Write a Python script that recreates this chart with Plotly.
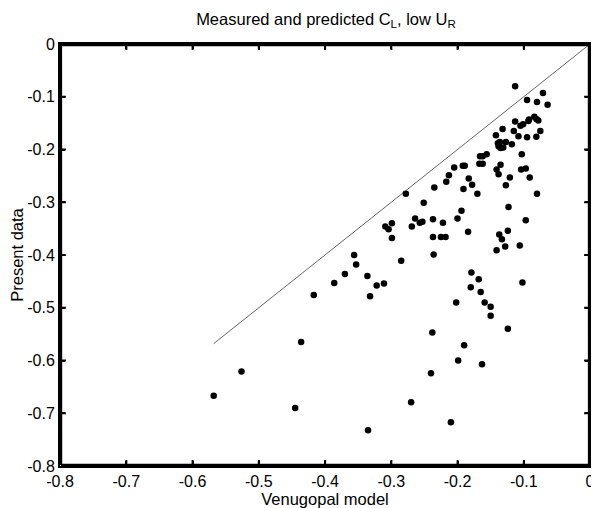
import plotly.graph_objects as go

# Venugopal model prediction (x) vs present measured data (y), C_L at low U_R
venugopal = [
    -0.113, -0.071, -0.095, -0.080, -0.064, -0.113, -0.105, -0.101, -0.093, -0.092,
    -0.084, -0.081, -0.078, -0.132, -0.115, -0.075, -0.142, -0.108, -0.095, -0.081,
    -0.139, -0.136, -0.127, -0.118, -0.138, -0.135, -0.131, -0.103, -0.156, -0.166,
    -0.162, -0.167, -0.162, -0.205, -0.192, -0.189, -0.135, -0.141, -0.138, -0.104,
    -0.097, -0.213, -0.217, -0.183, -0.121, -0.091, -0.235, -0.178, -0.191, -0.127,
    -0.278, -0.170, -0.080, -0.251, -0.123, -0.194, -0.264, -0.237, -0.200, -0.097,
    -0.257, -0.253, -0.222, -0.309, -0.304, -0.299, -0.269, -0.299, -0.237, -0.225,
    -0.218, -0.184, -0.124, -0.137, -0.133, -0.141, -0.128, -0.106, -0.236, -0.285,
    -0.311, -0.179, -0.168, -0.180, -0.165, -0.102, -0.202, -0.159, -0.150, -0.150,
    -0.124, -0.238, -0.190, -0.199, -0.163, -0.240, -0.270, -0.335, -0.210, -0.445,
    -0.436, -0.526, -0.568, -0.356, -0.353, -0.370, -0.336, -0.386, -0.322, -0.417,
    -0.332,
]
present = [
    -0.080, -0.093, -0.106, -0.110, -0.115, -0.147, -0.155, -0.152, -0.146, -0.143,
    -0.138, -0.142, -0.145, -0.161, -0.165, -0.165, -0.173, -0.175, -0.177, -0.176,
    -0.188, -0.186, -0.186, -0.190, -0.194, -0.197, -0.196, -0.209, -0.209, -0.213,
    -0.213, -0.227, -0.227, -0.234, -0.231, -0.231, -0.229, -0.238, -0.247, -0.238,
    -0.236, -0.249, -0.261, -0.255, -0.253, -0.253, -0.272, -0.267, -0.275, -0.268,
    -0.284, -0.284, -0.284, -0.301, -0.309, -0.316, -0.331, -0.332, -0.331, -0.334,
    -0.339, -0.337, -0.339, -0.346, -0.351, -0.340, -0.346, -0.368, -0.366, -0.366,
    -0.366, -0.356, -0.354, -0.361, -0.370, -0.391, -0.384, -0.382, -0.399, -0.411,
    -0.454, -0.433, -0.446, -0.461, -0.470, -0.452, -0.490, -0.490, -0.498, -0.515,
    -0.540, -0.547, -0.571, -0.600, -0.607, -0.624, -0.679, -0.732, -0.717, -0.690,
    -0.565, -0.621, -0.667, -0.400, -0.418, -0.436, -0.440, -0.453, -0.458, -0.476,
    -0.478,
]

# y = x reference line
line_x = [-0.568, 0]
line_y = [-0.568, 0]

x_ticks = [-0.8, -0.7, -0.6, -0.5, -0.4, -0.3, -0.2, -0.1, 0]
x_labels = ["-0.8", "-0.7", "-0.6", "-0.5", "-0.4", "-0.3", "-0.2", "-0.1", "0"]
y_ticks = [-0.8, -0.7, -0.6, -0.5, -0.4, -0.3, -0.2, -0.1, 0]
y_labels = ["-0.8", "-0.7", "-0.6", "-0.5", "-0.4", "-0.3", "-0.2", "-0.1", "0"]

font = "Liberation Sans, Arial, sans-serif"
x0, x1 = x_ticks[0], x_ticks[-1]
y0, y1 = y_ticks[0], y_ticks[-1]

# backup box + ticks as a line trace, nudged a hair off-axis since
# perfectly straight axis lines have not been showing up
px, py = 0.8 / 539, 0.8 / 422      # data units per pixel
e = 0.0002
bx, by = 1.0 * px, 1.0 * py        # keep the 3px stroke mostly inside the area
box_x = [x0 + bx, x1 - bx + e, x1 - bx, x0 + bx - e, x0 + bx]
box_y = [y0 + by, y0 + by + e, y1 - by, y1 - by - e, y0 + by]
tl = 6
tick_x, tick_y = [], []
for v in x_ticks[1:-1]:
    tick_x += [v, v + e, None, v, v + e, None]
    tick_y += [y0, y0 + tl * py, None, y1, y1 - tl * py, None]
for v in y_ticks[1:-1]:
    tick_x += [x0, x0 + tl * px, None, x1, x1 - tl * px, None]
    tick_y += [v, v + e, None, v, v + e, None]

fig = go.Figure()
fig.add_trace(go.Scatter(x=line_x, y=line_y, mode='lines',
                         line=dict(color='#666666', width=1), showlegend=False))
fig.add_trace(go.Scatter(x=venugopal, y=present, mode='markers',
                         marker=dict(color='black', size=6.5), showlegend=False))
fig.add_trace(go.Scatter(x=box_x, y=box_y, mode='lines',
                         line=dict(color='black', width=2.5), showlegend=False))
fig.add_trace(go.Scatter(x=tick_x, y=tick_y, mode='lines',
                         line=dict(color='black', width=2), showlegend=False))

# matlab style box, ticks inside on all four sides
axis_style = dict(showgrid=False, zeroline=False, showline=True, linecolor='black',
                  linewidth=2, mirror='allticks', ticks='inside', ticklen=5,
                  tickwidth=2, tickcolor='black', ticklabeloverflow='allow',
                  tickfont=dict(family=font, size=16, color='black'))
fig.update_xaxes(range=[x0, x1], tickvals=x_ticks, ticktext=x_labels,
                 title=dict(text="Venugopal model", standoff=2,
                            font=dict(family=font, size=16.5, color='black')),
                 **axis_style)
fig.update_yaxes(range=[y0, y1], tickvals=y_ticks, ticktext=y_labels,
                 title=dict(text="Present data", standoff=4,
                            font=dict(family=font, size=16.5, color='black')),
                 **axis_style)

# page body adds 8px offset, so figure is sized to fit the window
fig.update_layout(
    width=591, height=500,
    margin=dict(l=48, r=4, t=36, b=42),
    paper_bgcolor='white', plot_bgcolor='white',
    title=dict(text="Measured and predicted C<sub>L</sub>, low U<sub>R</sub>",
               x=0.538, xanchor='center', y=0.978, yanchor='middle',
               font=dict(family=font, size=16.5, color='black')),
)

fig.write_html("out.html")
